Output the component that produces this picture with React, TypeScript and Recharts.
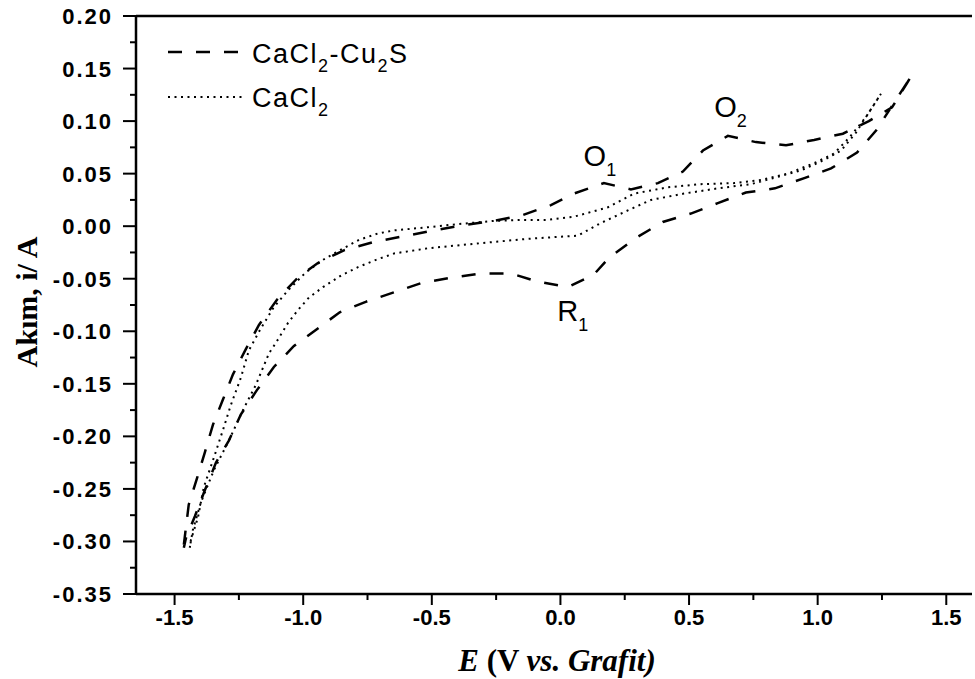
import React from 'react';
import { LineChart, Line, XAxis, YAxis, Legend, ReferenceDot, ReferenceLine } from 'recharts';

// CaCl2-Cu2S loop (forward scan, then the return scan)
const cuSulfideE = [
  -1.464, -1.445, -1.413, -1.382, -1.351, -1.312, -1.273, -1.223, -1.172, -1.102, -1.021, -0.943,
  -0.842, -0.725, -0.608, -0.492, -0.375, -0.259, -0.154, -0.037, 0.052, 0.169, 0.274, 0.379,
  0.476, 0.554, 0.651, 0.76, 0.877, 0.986, 1.098, 1.199, 1.289, 1.347, 1.367,
  1.227, 1.153, 1.052, 0.951, 0.834, 0.721, 0.612, 0.507, 0.398, 0.294, 0.189, 0.13, 0.029,
  -0.084, -0.193, -0.309, -0.426, -0.539, -0.648, -0.757, -0.858, -0.947, -1.036, -1.114, -1.18,
  -1.242, -1.289, -1.339, -1.382, -1.421, -1.456, -1.464,
];
const cuSulfideI = [
  -0.303, -0.265, -0.24, -0.215, -0.189, -0.165, -0.141, -0.117, -0.094, -0.07, -0.049, -0.035,
  -0.023, -0.015, -0.0095, -0.004, 0.001, 0.005, 0.01, 0.02, 0.031, 0.041, 0.035, 0.041,
  0.052, 0.072, 0.086, 0.08, 0.077, 0.082, 0.088, 0.1, 0.113, 0.136, 0.144,
  0.091, 0.07, 0.055, 0.046, 0.036, 0.032, 0.022, 0.012, 0.004, -0.011, -0.03, -0.046, -0.058,
  -0.053, -0.045, -0.045, -0.049, -0.054, -0.063, -0.072, -0.082, -0.098, -0.114, -0.134, -0.156,
  -0.179, -0.204, -0.225, -0.251, -0.276, -0.297, -0.306,
];

// CaCl2 loop
const chlorideE = [
  -1.441, -1.437, -1.409, -1.386, -1.347, -1.312, -1.281, -1.242, -1.211, -1.164, -1.114, -1.059,
  -0.99, -0.923, -0.873, -0.783, -0.71, -0.647, -0.515, -0.398, -0.259, -0.154, -0.049, 0.052,
  0.185, 0.286, 0.418, 0.546, 0.675, 0.78, 0.885, 0.986, 1.063, 1.122, 1.188, 1.246,
  1.149, 1.091, 1.025, 0.935, 0.83, 0.741, 0.612, 0.48, 0.352, 0.262, 0.157, 0.068, 0.002,
  -0.126, -0.259, -0.387, -0.515, -0.647, -0.717, -0.787, -0.853, -0.923, -0.978, -1.021, -1.059,
  -1.106, -1.133, -1.184, -1.234, -1.289, -1.347, -1.398, -1.429, -1.441,
];
const chlorideI = [
  -0.306, -0.299, -0.277, -0.248, -0.22, -0.194, -0.17, -0.144, -0.118, -0.097, -0.077, -0.061,
  -0.044, -0.032, -0.025, -0.013, -0.007, -0.004, -0.001, 0.002, 0.005, 0.006, 0.006, 0.009,
  0.018, 0.031, 0.037, 0.04, 0.041, 0.044, 0.05, 0.06, 0.069, 0.084, 0.104, 0.126,
  0.089, 0.072, 0.063, 0.053, 0.046, 0.04, 0.036, 0.031, 0.025, 0.015, 0.003, -0.009, -0.01,
  -0.012, -0.015, -0.018, -0.021, -0.026, -0.032, -0.039, -0.047, -0.058, -0.068, -0.08, -0.092,
  -0.111, -0.121, -0.151, -0.175, -0.204, -0.232, -0.263, -0.289, -0.306,
];

const xTicks = [-1.5, -1.25, -1.0, -0.75, -0.5, -0.25, 0, 0.25, 0.5, 0.75, 1.0, 1.25, 1.5];
const yTicks = [
  -0.35, -0.325, -0.3, -0.275, -0.25, -0.225, -0.2, -0.175, -0.15, -0.125, -0.1, -0.075, -0.05,
  -0.025, 0, 0.025, 0.05, 0.075, 0.1, 0.125, 0.15, 0.175, 0.2,
];

// peak labels: letter, subscript, E, i
const peakNames = ['O', 'O', 'R'];
const peakSubs = ['1', '2', '1'];
const peakE = [0.09, 0.598, -0.012];
const peakI = [0.057, 0.104, -0.09];

const seriesNames = ['CaCl2-Cu2S', 'CaCl2'];

const cuSulfide = cuSulfideE.map((e, k) => ({ e, i: cuSulfideI[k] }));
const chloride = chlorideE.map((e, k) => ({ e, i: chlorideI[k] }));

const SANS = '"Liberation Sans", Arial, sans-serif';
const SERIF = '"Liberation Serif", "Times New Roman", serif';

const isMajorX = (v: number) => Math.round(v * 100) % 50 === 0;
const isMajorY = (v: number) => Math.round(v * 1000) % 50 === 0;

const XTick = ({ x, y, payload }: any) => {
  const major = isMajorX(payload.value);
  return (
    <g>
      <line x1={x} x2={x} y1={y} y2={y + (major ? 11 : 6)} stroke="#000" strokeWidth={2} />
      {major && (
        <text x={x} y={y + 31} textAnchor="middle" fontFamily={SANS} fontWeight="bold" fontSize={22} fill="#000">
          {payload.value.toFixed(1)}
        </text>
      )}
    </g>
  );
};

const YTick = ({ x, y, payload }: any) => {
  const major = isMajorY(payload.value);
  const v = Math.abs(payload.value) < 1e-9 ? 0 : payload.value;
  return (
    <g>
      <line x1={x - (major ? 13 : 6)} x2={x} y1={y} y2={y} stroke="#000" strokeWidth={2} />
      {major && (
        <text x={x - 23} y={y + 8} textAnchor="end" fontFamily={SANS} fontWeight="bold" fontSize={22} letterSpacing={2} fill="#000">
          {v.toFixed(2)}
        </text>
      )}
    </g>
  );
};

const PeakLabel = (k: number) => (props: any) => (
  <text x={props.cx} y={props.cy} fontFamily={SANS} fontSize={29} fill="#000">
    {peakNames[k]}
    <tspan fontSize={18} dy={10}>{peakSubs[k]}</tspan>
  </text>
);

const Formula = ({ text, x, y }: { text: string; x: number; y: number }) => {
  // digits after an element symbol become subscripts
  const parts = text.split(/(\d)/).filter((s) => s !== '');
  return (
    <text x={x} y={y} fontFamily={SANS} fontSize={27} letterSpacing={1.5} fill="#000">
      {parts.map((p, k) =>
        /\d/.test(p) ? (
          <tspan key={k} fontSize={18} dy={9}>{p}</tspan>
        ) : (
          <tspan key={k} dy={k > 0 && /\d/.test(parts[k - 1]) ? -9 : 0}>{p}</tspan>
        )
      )}
    </text>
  );
};

const LegendBox = () => (
  <svg width={290} height={95} style={{ display: 'block', overflow: 'visible' }}>
    <line x1={3} x2={78} y1={18} y2={18} stroke="#000" strokeWidth={2.5} strokeDasharray="14 14" />
    <Formula text={seriesNames[0]} x={87} y={29} />
    <line x1={3} x2={78} y1={63} y2={63} stroke="#000" strokeWidth={2} strokeDasharray="2 4.5" />
    <Formula text={seriesNames[1]} x={87} y={73} />
  </svg>
);

const XLabel = () => (
  <text x={557} y={671} textAnchor="middle" fontFamily={SERIF} fontWeight="bold" fontSize={31} fill="#000">
    <tspan fontStyle="italic">E</tspan>
    <tspan> (V </tspan>
    <tspan fontStyle="italic">vs. Grafit)</tspan>
  </text>
);

const YLabel = () => (
  <text
    x={26}
    y={302}
    transform="rotate(-90 26 302)"
    textAnchor="middle"
    dominantBaseline="central"
    fontFamily={SERIF}
    fontWeight="bold"
    fontSize={30}
    fill="#000"
  >
    Akım, i/ A
  </text>
);

const App: React.FC = () => {
  return (
    <div style={{ position: 'absolute', left: 0, top: 0, width: 975, height: 679, background: '#fff' }}>
      <LineChart width={975} height={679} margin={{ top: 16, right: 3, bottom: 25, left: 0 }}>
        <XAxis
          dataKey="e"
          type="number"
          domain={[-1.65, 1.6]}
          ticks={xTicks}
          interval={0}
          height={60}
          tickSize={0}
          tickMargin={0}
          tickLine={false}
          tick={<XTick />}
          axisLine={{ stroke: '#000', strokeWidth: 2.5 }}
          allowDataOverflow
        />
        <YAxis
          type="number"
          domain={[-0.35, 0.2]}
          ticks={yTicks}
          interval={0}
          width={136}
          tickSize={0}
          tickMargin={0}
          tickLine={false}
          tick={<YTick />}
          axisLine={{ stroke: '#000', strokeWidth: 2.5 }}
          allowDataOverflow
        />
        <ReferenceLine y={0.2} stroke="#000" strokeWidth={2.5} />
        <Line
          data={cuSulfide}
          dataKey="i"
          name={seriesNames[0]}
          type="linear"
          stroke="#000"
          strokeWidth={2.5}
          strokeDasharray="14 14"
          dot={false}
          activeDot={false}
          isAnimationActive={false}
        />
        <Line
          data={chloride}
          dataKey="i"
          name={seriesNames[1]}
          type="linear"
          stroke="#000"
          strokeWidth={2}
          strokeDasharray="2 4.5"
          dot={false}
          activeDot={false}
          isAnimationActive={false}
        />
        {peakNames.map((_, k) => (
          <ReferenceDot key={k} x={peakE[k]} y={peakI[k]} r={0} ifOverflow="visible" shape={PeakLabel(k)} />
        ))}
        <Legend
          layout="vertical"
          align="center"
          verticalAlign="middle"
          content={<LegendBox />}
          wrapperStyle={{ position: 'absolute', left: 165, top: 34, width: 290, height: 95 }}
        />
      </LineChart>
      <svg width={975} height={679} style={{ position: 'absolute', left: 0, top: 0, pointerEvents: 'none' }}>
        <XLabel />
        <YLabel />
      </svg>
    </div>
  );
};

export default App;
